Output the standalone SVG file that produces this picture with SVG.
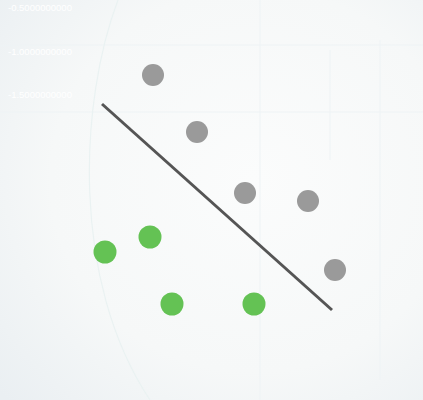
<svg xmlns="http://www.w3.org/2000/svg" width="423" height="400" viewBox="0 0 423 400">
<defs>
<radialGradient id="bg" cx="0.6" cy="0.45" r="0.8">
<stop offset="0" stop-color="#fbfcfc"/>
<stop offset="0.6" stop-color="#f6f8f8"/>
<stop offset="1" stop-color="#eaeff2"/>
</radialGradient>
<style>
.g{fill:#9a9a9a}
.gr{fill:#64c254}
.ax{font-family:"Liberation Sans",Arial,sans-serif;font-size:9.5px;fill:#ffffff}
.grid{stroke:#eef3f5;stroke-width:1;fill:none}
</style>
</defs>
<rect width="423" height="400" fill="url(#bg)"/>
<g id="background">
<path class="grid" d="M0 45 H423 M0 112 H423 M260 0 V400 M330 50 V160 M380 40 V380"/>
<path d="M118 0 C80 100 70 280 150 400" stroke="#eaf2f2" stroke-width="1.2" fill="none"/>
<text class="ax" x="8" y="11">-0.5000000000</text>
<text class="ax" x="8" y="55">-1.0000000000</text>
<text class="ax" x="8" y="98">-1.5000000000</text>
</g>
<g id="connectors">
<line x1="102" y1="104" x2="332" y2="310" stroke="#555555" stroke-width="3"/>
</g>
<g id="gray-points">
<circle id="p1" class="g" cx="153" cy="75" r="11"/>
<circle id="p2" class="g" cx="197" cy="132" r="11"/>
<circle id="p3" class="g" cx="245" cy="193" r="11"/>
<circle id="p4" class="g" cx="308" cy="201" r="11"/>
<circle id="p5" class="g" cx="335" cy="270" r="11"/>
</g>
<g id="green-points">
<circle id="q1" class="gr" cx="105" cy="252" r="11.5"/>
<circle id="q2" class="gr" cx="150" cy="237" r="11.5"/>
<circle id="q3" class="gr" cx="172" cy="304" r="11.5"/>
<circle id="q4" class="gr" cx="254" cy="304" r="11.5"/>
</g>
</svg>
